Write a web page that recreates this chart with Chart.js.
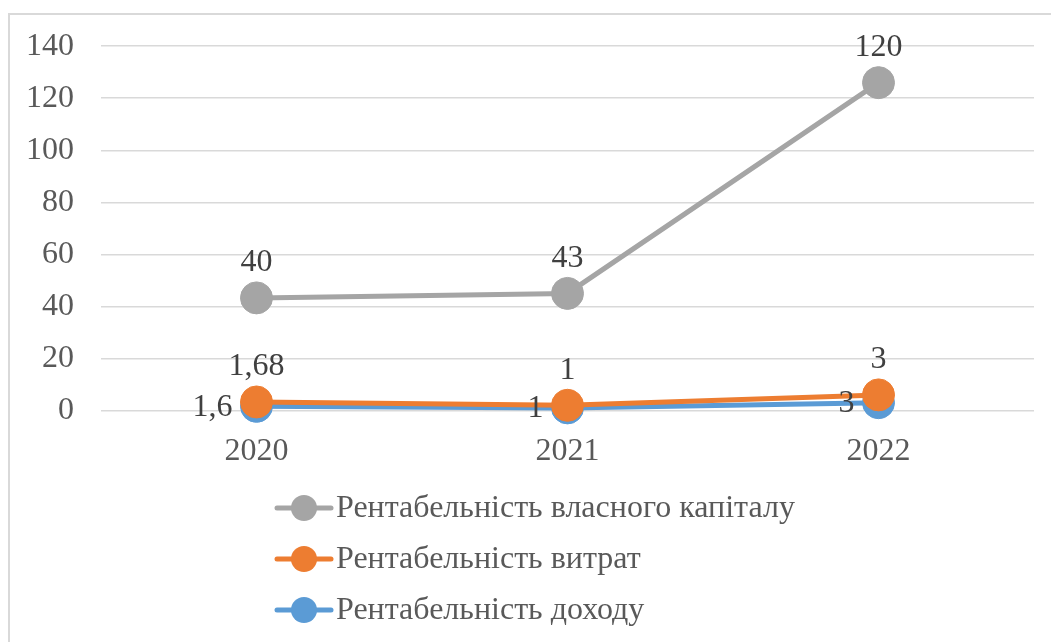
<!DOCTYPE html>
<html lang="uk">
<head>
<meta charset="utf-8">
<title>Рентабельність</title>
<script src="https://cdn.jsdelivr.net/npm/chart.js@4.4.1/dist/chart.umd.min.js"></script>
<style>
  html, body { margin: 0; padding: 0; background: #ffffff; overflow: hidden; }
  #wrap { position: relative; width: 1051px; height: 642px; overflow: hidden; }
  #frame { position: absolute; left: 8px; top: 13px; width: 1100px; height: 700px;
           border: 2px solid #d9d9d9; box-sizing: border-box; }
  canvas { position: absolute; left: 0; top: 0; }
</style>
</head>
<body>
<div id="wrap">
  <div id="frame"></div>
  <canvas id="chart" width="1051" height="642"></canvas>
</div>
<script>
// Years on the horizontal axis
const years = ['2020', '2021', '2022'];

// Profitability indicators, %
const incomeReturn = [1.6, 1, 3];      // Рентабельність доходу
const costReturn = [1.68, 1, 3];       // Рентабельність витрат
const equityReturn = [40, 43, 120];    // Рентабельність власного капіталу

// Value axis ticks
const yTicks = [0, 20, 40, 60, 80, 100, 120, 140];

const FONT = "'Liberation Serif', 'Times New Roman', serif";
const TEXT = '#595959';
const LABEL = '#404040';

const COLORS = { income: '#5B9BD5', cost: '#ED7D31', equity: '#A5A5A5' };

function fmt(v) {
  return String(v).replace('.', ',');
}

// Series are painted in dataset order so that later series sit on top
const drawOrderPlugin = {
  id: 'drawOrder',
  beforeDatasetsDraw(chart) {
    const ctx = chart.ctx;
    for (let i = 0; i < chart.data.datasets.length; i++) {
      const meta = chart.getDatasetMeta(i);
      if (!meta.visible) continue;
      ctx.save();
      meta.controller.draw();
      ctx.restore();
    }
    return false;
  }
};

// Value labels next to the markers
const valueLabelPlugin = {
  id: 'valueLabels',
  afterDraw(chart) {
    const ctx = chart.ctx;
    ctx.save();
    ctx.font = '32px ' + FONT;
    ctx.fillStyle = LABEL;
    chart.data.datasets.forEach((ds, i) => {
      const meta = chart.getDatasetMeta(i);
      meta.data.forEach((pt, j) => {
        const txt = fmt(ds.data[j]);
        if (ds.labelPos === 'left') {
          ctx.textAlign = 'right';
          ctx.textBaseline = 'middle';
          ctx.fillText(txt, pt.x - 24, pt.y + 1);
        } else {
          ctx.textAlign = 'center';
          ctx.textBaseline = 'middle';
          ctx.fillText(txt, pt.x, pt.y - 35);
        }
      });
    });
    ctx.restore();
  }
};

// Legend stacked in a column below the plot
const columnLegendPlugin = {
  id: 'columnLegend',
  afterDraw(chart) {
    const ctx = chart.ctx;
    const x0 = 277, lineLen = 54, y0 = 508, step = 51;
    ctx.save();
    ctx.font = '32px ' + FONT;
    ctx.textAlign = 'left';
    ctx.textBaseline = 'middle';
    const items = chart.data.datasets.slice().reverse();
    items.forEach((ds, k) => {
      const y = y0 + k * step;
      ctx.strokeStyle = ds.borderColor;
      ctx.lineWidth = 5;
      ctx.lineCap = 'round';
      ctx.beginPath();
      ctx.moveTo(x0, y);
      ctx.lineTo(x0 + lineLen, y);
      ctx.stroke();
      ctx.fillStyle = ds.borderColor;
      ctx.beginPath();
      ctx.arc(x0 + lineLen / 2, y, 13, 0, Math.PI * 2);
      ctx.fill();
      ctx.fillStyle = TEXT;
      ctx.fillText(ds.label, x0 + lineLen + 5, y + 1);
    });
    ctx.restore();
  }
};

function series(label, data, color, labelPos) {
  return {
    label, data, labelPos,
    borderColor: color,
    backgroundColor: color,
    borderWidth: 5,
    pointRadius: 16,
    pointBorderWidth: 1,
    pointBorderColor: color,
    pointBackgroundColor: color,
    pointHoverRadius: 16,
    fill: false,
    tension: 0
  };
}

new Chart(document.getElementById('chart'), {
  type: 'line',
  data: {
    labels: years,
    datasets: [
      series('Рентабельність доходу', incomeReturn, COLORS.income, 'left'),
      series('Рентабельність витрат', costReturn, COLORS.cost, 'above'),
      series('Рентабельність власного капіталу', equityReturn, COLORS.equity, 'above')
    ]
  },
  options: {
    responsive: false,
    animation: false,
    layout: { padding: { left: 9, right: 12, top: 44, bottom: 0 } },
    plugins: {
      legend: { display: false },
      tooltip: { enabled: false }
    },
    scales: {
      x: {
        offset: true,
        grid: { display: false, drawTicks: false },
        border: { display: false },
        ticks: { color: TEXT, font: { family: FONT, size: 32 }, padding: 22, maxRotation: 0 },
        afterFit(s) { s.height = 231.5; }
      },
      y: {
        stacked: true,
        min: yTicks[0],
        max: yTicks[yTicks.length - 1],
        afterBuildTicks(s) { s.ticks = yTicks.map(v => ({ value: v })); },
        grid: { color: '#d9d9d9', lineWidth: 1.5, drawTicks: false },
        border: { display: false },
        ticks: { color: TEXT, font: { family: FONT, size: 32 }, padding: 27 },
        afterFit(s) { s.width = 92; }
      }
    }
  },
  plugins: [drawOrderPlugin, valueLabelPlugin, columnLegendPlugin]
});
</script>
</body>
</html>
